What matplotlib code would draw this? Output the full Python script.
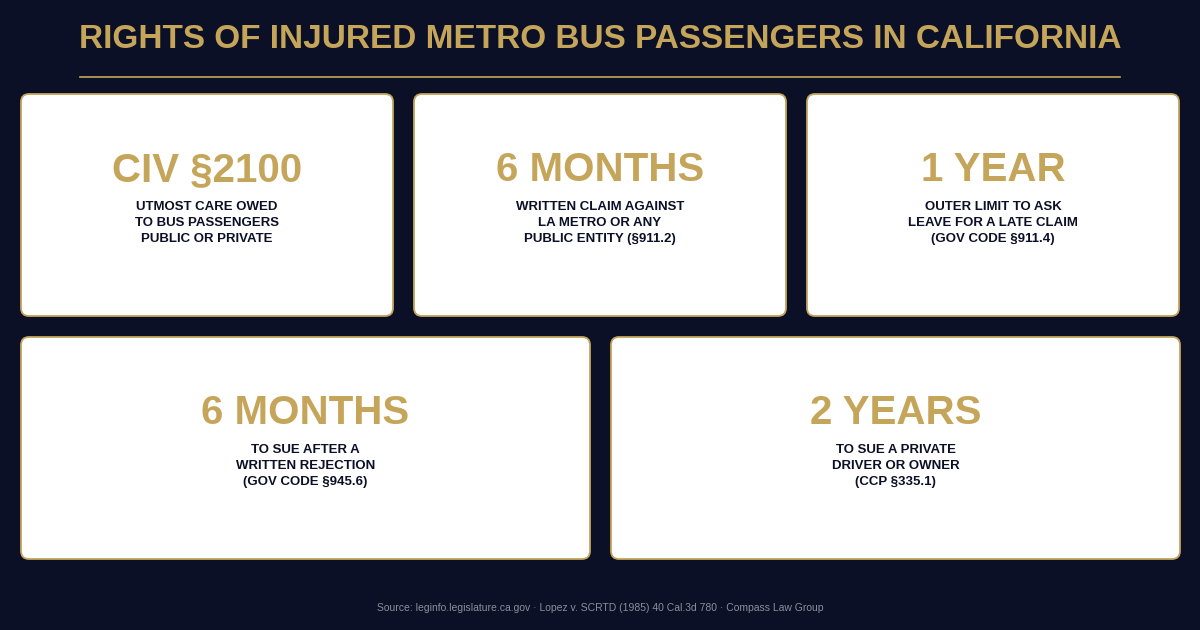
import matplotlib
matplotlib.use("Agg")
import matplotlib.pyplot as plt
from matplotlib.patches import FancyBboxPatch

BG = "#0b1026"
GOLD = "#c5a55a"
NAVY = "#0b1026"

title = "RIGHTS OF INJURED METRO BUS PASSENGERS IN CALIFORNIA"
headlines = ["CIV §2100", "6 MONTHS", "1 YEAR", "6 MONTHS", "2 YEARS"]
descriptions = [
    "UTMOST CARE OWED\nTO BUS PASSENGERS\nPUBLIC OR PRIVATE",
    "WRITTEN CLAIM AGAINST\nLA METRO OR ANY\nPUBLIC ENTITY (§911.2)",
    "OUTER LIMIT TO ASK\nLEAVE FOR A LATE CLAIM\n(GOV CODE §911.4)",
    "TO SUE AFTER A\nWRITTEN REJECTION\n(GOV CODE §945.6)",
    "TO SUE A PRIVATE\nDRIVER OR OWNER\n(CCP §335.1)",
]
source = "Source: leginfo.legislature.ca.gov · Lopez v. SCRTD (1985) 40 Cal.3d 780 · Compass Law Group"

# card boxes (x0, y0, x1, y1) in pixels
boxes = [(21, 94, 393, 316), (414, 94, 786, 316), (807, 94, 1179, 316),
         (21, 337, 590, 559), (611, 337, 1180, 559)]

plt.rcParams['font.family'] = ['Liberation Sans', 'DejaVu Sans']
fig = plt.figure(figsize=(12, 6.3), dpi=100, facecolor=BG)
ax = fig.add_axes([0, 0, 1, 1])
ax.set_xlim(0, 1200); ax.set_ylim(630, 0); ax.axis("off")
ax.set_facecolor(BG)

ax.text(600, 40, title, color=GOLD, fontsize=24, fontweight="bold", ha="center", va="center")
ax.plot([80, 1120], [77, 77], color=GOLD, lw=1.2)

for (x0, y0, x1, y1), h, d in zip(boxes, headlines, descriptions):
    p = FancyBboxPatch((x0, y0), x1 - x0, y1 - y0, boxstyle="round,pad=0,rounding_size=8",
                       fc="white", ec=GOLD, lw=1.3)
    ax.add_patch(p)
    cx = (x0 + x1) / 2
    ax.text(cx, y0 + 76, h, color=GOLD, fontsize=29, fontweight="bold", ha="center", va="center")
    ax.text(cx, y0 + 129, d, color=NAVY, fontsize=9.5, fontweight="bold", ha="center",
            va="center", linespacing=1.45)

ax.text(600, 608, source, color="#8a8f9e", fontsize=7.5, ha="center", va="center")
fig.savefig("out.png", dpi=100, facecolor=BG)
